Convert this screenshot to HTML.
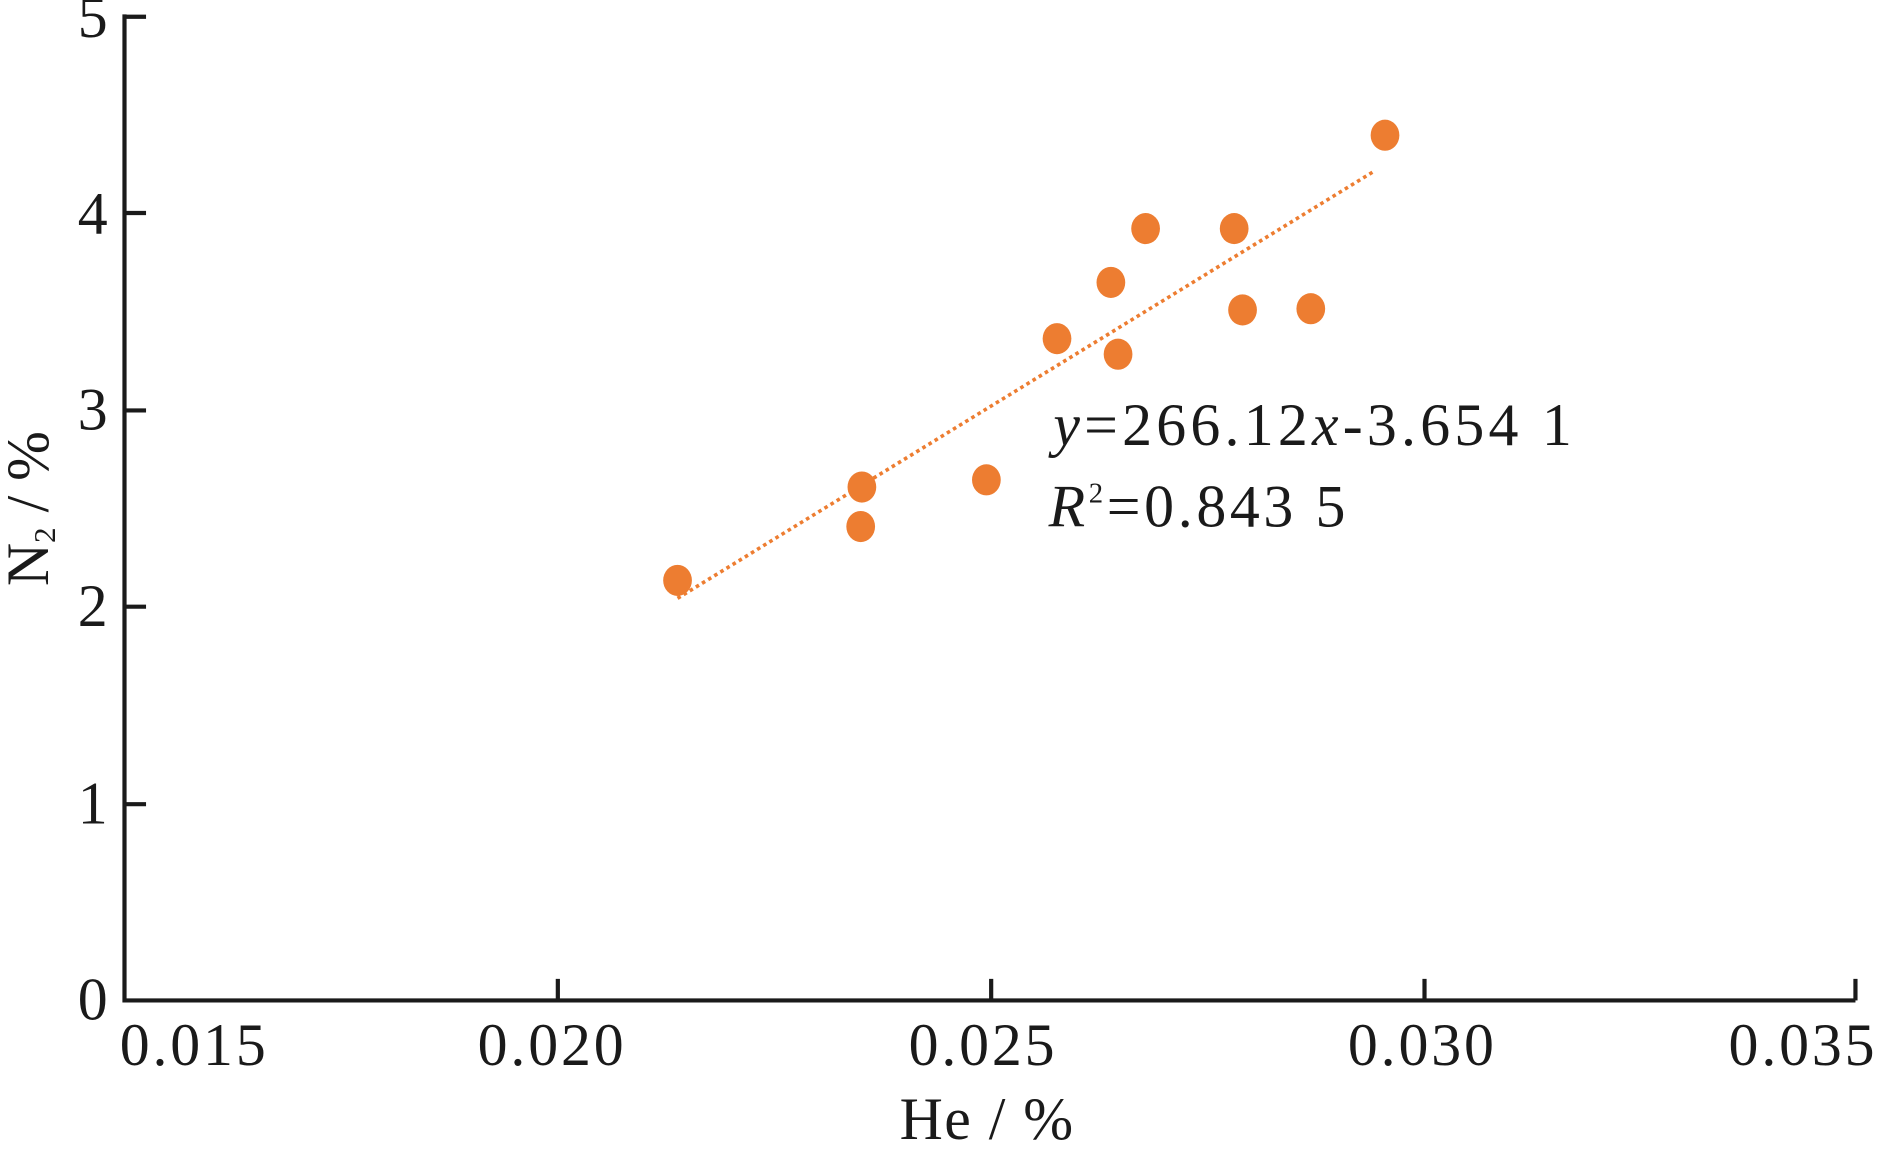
<!DOCTYPE html>
<html><head><meta charset="utf-8"><style>html,body{margin:0;padding:0;background:#fff}svg{display:block}text{font-family:"Liberation Serif",serif}</style></head>
<body>
<svg width="1877" height="1150" viewBox="0 0 1568 961" preserveAspectRatio="none" xmlns="http://www.w3.org/2000/svg" font-family="'Liberation Serif', serif" fill="#1a1a1a">
<g stroke="#1a1a1a" stroke-width="3.5" fill="none">
<polyline points="104,12 104,836 1550,836"/>
<line x1="104" y1="14" x2="122" y2="14"/>
<line x1="104" y1="178" x2="122" y2="178"/>
<line x1="104" y1="343" x2="122" y2="343"/>
<line x1="104" y1="507" x2="122" y2="507"/>
<line x1="104" y1="672" x2="122" y2="672"/>
<line x1="466" y1="836" x2="466" y2="818"/>
<line x1="828" y1="836" x2="828" y2="818"/>
<line x1="1190" y1="836" x2="1190" y2="818"/>
<line x1="1550" y1="836" x2="1550" y2="818"/>
</g>
<g font-size="50" text-anchor="end">
<text x="90" y="31">5</text>
<text x="90" y="195">4</text>
<text x="90" y="359">3</text>
<text x="90" y="523">2</text>
<text x="90" y="688">1</text>
<text x="90" y="852">0</text>
</g>
<g font-size="50" text-anchor="middle">
<text x="161" y="890" textLength="122">0.015</text>
<text x="460" y="890" textLength="122">0.020</text>
<text x="820" y="890" textLength="122">0.025</text>
<text x="1187" y="890" textLength="122">0.030</text>
<text x="1505" y="890" textLength="122">0.035</text>
<text x="824" y="952" textLength="145">He / %</text>
</g>
<text transform="translate(40,425) rotate(-90)" font-size="50" text-anchor="middle">N<tspan font-size="26" dy="6">2</tspan><tspan dy="-6"> / %</tspan></text>
<line x1="566" y1="500" x2="1148" y2="143" stroke="#ed7d31" stroke-width="3" stroke-dasharray="3,3"/>
<g fill="#ed7d31">
<ellipse cx="566" cy="485" rx="12" ry="13"/>
<ellipse cx="720" cy="407" rx="12" ry="13"/>
<ellipse cx="719" cy="440" rx="12" ry="13"/>
<ellipse cx="824" cy="401" rx="12" ry="13"/>
<ellipse cx="883" cy="283" rx="12" ry="13"/>
<ellipse cx="928" cy="236" rx="12" ry="13"/>
<ellipse cx="934" cy="296" rx="12" ry="13"/>
<ellipse cx="957" cy="191" rx="12" ry="13"/>
<ellipse cx="1031" cy="191" rx="12" ry="13"/>
<ellipse cx="1038" cy="259" rx="12" ry="13"/>
<ellipse cx="1095" cy="258" rx="12" ry="13"/>
<ellipse cx="1157" cy="113" rx="12" ry="13"/>
</g>
<text x="880" y="372" font-size="50" textLength="433"><tspan font-style="italic">y</tspan>=266.12<tspan font-style="italic">x</tspan>-3.654 1</text>
<text x="876" y="440" font-size="50" textLength="248"><tspan font-style="italic">R</tspan><tspan font-size="24" dy="-20">2</tspan><tspan dy="20">=0.843 5</tspan></text>
</svg>
</body></html>
